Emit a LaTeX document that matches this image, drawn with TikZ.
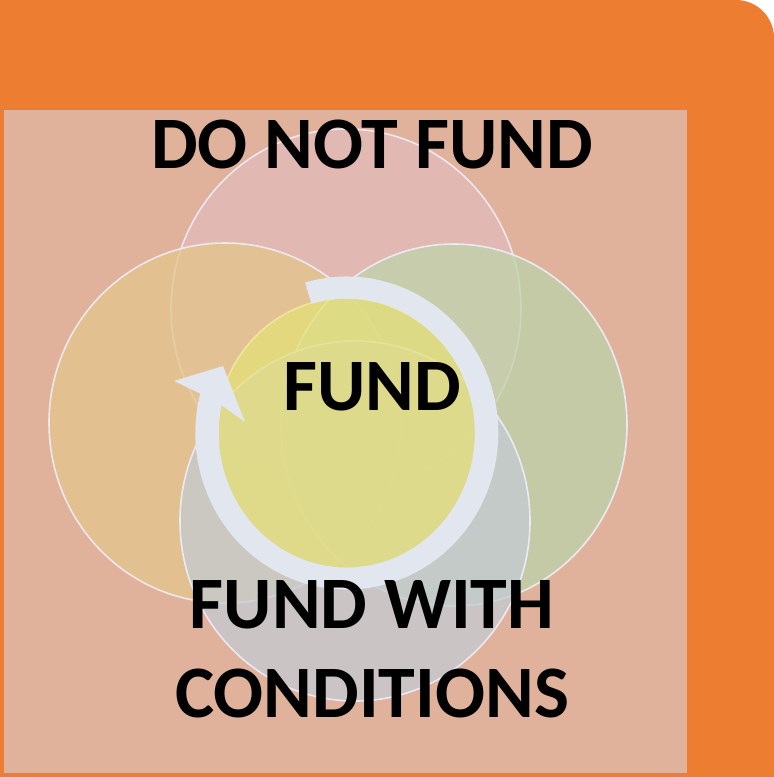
\documentclass[tikz,border=0pt]{standalone}
\usepackage{fontspec}
\setmainfont{Carlito}
\usepackage{tikz}
\usetikzlibrary{calc}
\usepackage{xcolor}

\definecolor{frameorange}{RGB}{237,125,49}
\definecolor{panelsalmon}{RGB}{224,178,155}
\definecolor{topcol}{RGB}{228,187,186}
\definecolor{leftcol}{RGB}{227,198,140}
\definecolor{rightcol}{RGB}{189,211,170}
\definecolor{bottomcol}{RGB}{196,203,212}
\definecolor{centercol}{RGB}{230,224,120}
\definecolor{ringcol}{RGB}{226,230,238}

\tikzset{
  venn/.style={draw=white!94!blue, line width=1.6pt, fill opacity=0.75, draw opacity=0.85},
  label/.style={font=\fontsize{74}{88}\selectfont\bfseries, anchor=base, inner sep=0pt}
}

\begin{document}
\begin{tikzpicture}[x=1pt,y=-1pt]
\useasboundingbox (0,0) rectangle (774,777);
\fill[frameorange] (0,0) -- (736,0) arc[start angle=-90, end angle=0, radius=38] -- (774,777) -- (0,777) -- cycle;
\fill[panelsalmon] (4,110) rectangle (687,773);

\draw[venn, fill=topcol] (346,309) ellipse[x radius=175, y radius=180];
\draw[venn, fill=leftcol] (225,423) ellipse[x radius=176, y radius=180];
\draw[venn, fill=rightcol] (454,425) ellipse[x radius=173, y radius=181];
\draw[venn, fill=bottomcol] (355,521) ellipse[x radius=175, y radius=180];
\draw[venn, draw=white!70!yellow, draw opacity=0.5, fill=centercol] (346,434) ellipse[x radius=130, y radius=136];

% circular arrow
\coordinate (rc) at (346.8,433);
\fill[ringcol] ($(rc)+(-106:151.5 and 156.5)$) arc[start angle=-106, end angle=194.6, x radius=151.5, y radius=156.5]
  -- (174,381) -- (223,366) -- (245,422)
  -- ($(rc)+(191.9:128 and 134.5)$) arc[start angle=191.9, end angle=-106, x radius=128, y radius=134.5] -- cycle;

\node[label] (nofund) at (372,168) {DO NOT FUND};
\node[label] (fund) at (372,410) {FUND};
\node[label] (withcond) at (372,628) {FUND WITH};
\node[label] (conditions) at (372,717) {CONDITIONS};
\end{tikzpicture}
\end{document}
